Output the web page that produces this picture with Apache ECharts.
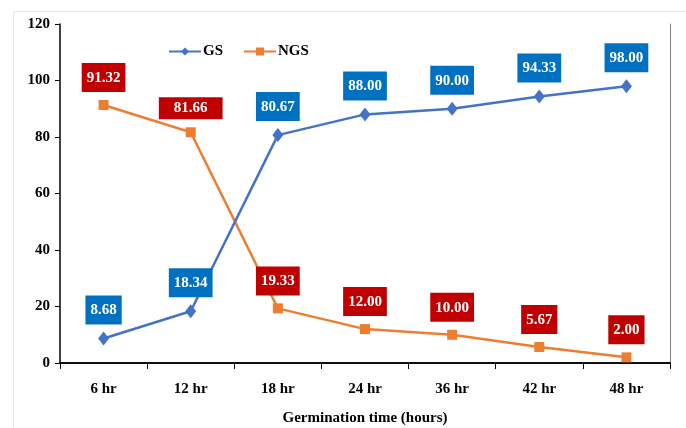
<!DOCTYPE html>
<html>
<head>
<meta charset="utf-8">
<script src="https://cdn.jsdelivr.net/npm/echarts@6/dist/echarts.min.js"></script>
<style>
  html, body { margin: 0; padding: 0; background: #fff; }
  #chart { width: 686px; height: 428px; }
</style>
</head>
<body>
<div id="chart"></div>
<script>
// Germination time categories and the two percentage series
const categories = ['6 hr', '12 hr', '18 hr', '24 hr', '36 hr', '42 hr', '48 hr'];
const gsValues = [8.68, 18.34, 80.67, 88.00, 90.00, 94.33, 98.00];
const ngsValues = [91.32, 81.66, 19.33, 12.00, 10.00, 5.67, 2.00];
const yTicks = { min: 0, max: 120, interval: 20 };

const FONT = '"Liberation Serif", "Times New Roman", serif';

// Boxed value label shown above each point
function boxLabel(bg, distance) {
  return {
    show: true,
    position: 'top',
    distance: distance,
    formatter: p => Number(p.value).toFixed(2),
    color: '#fff',
    fontFamily: FONT,
    fontWeight: 'bold',
    fontSize: 15,
    backgroundColor: bg,
    padding: [7, 5, 6, 5],
    lineHeight: 16
  };
}

// The NGS 12 hr label sits in a wider, flatter box
const ngsData = ngsValues.map((v, i) => i === 1
  ? { value: v, label: { padding: [3, 15, 3, 15] } }
  : v);

const chart = echarts.init(document.getElementById('chart'));
chart.setOption({
  animation: false,
  backgroundColor: '#fff',
  textStyle: { fontFamily: FONT },
  graphic: [{
    type: 'rect',
    silent: true,
    shape: { x: 13.5, y: 11.5, width: 700, height: 440 },
    style: { fill: 'none', stroke: '#e6e6e6', lineWidth: 1 }
  }],
  grid: { left: 60, right: 16, top: 24, bottom: 65, containLabel: false, outerBoundsMode: 'none' },
  legend: {
    top: 39,
    left: 163,
    itemGap: 20,
    itemWidth: 32,
    itemHeight: 10,
    textStyle: { fontFamily: FONT, fontWeight: 'bold', fontSize: 15, color: '#000', padding: [0, 0, 0, -3] },
    data: ['GS', 'NGS']
  },
  xAxis: [{
    type: 'category',
    data: categories,
    boundaryGap: true,
    name: 'Germination time (hours)',
    nameLocation: 'middle',
    nameGap: 48,
    nameTextStyle: { fontFamily: FONT, fontWeight: 'bold', fontSize: 15, color: '#000' },
    axisLine: { lineStyle: { color: '#000', width: 1.5 } },
    axisTick: { show: true, inside: false, length: 6, lineStyle: { color: '#000' } },
    axisLabel: { fontFamily: FONT, fontWeight: 'bold', fontSize: 15, color: '#000', margin: 19 }
  }, {
    type: 'category',
    data: categories,
    position: 'top',
    axisLine: { lineStyle: { color: '#000', width: 1.5 } },
    axisTick: { show: false },
    axisLabel: { show: false }
  }],
  yAxis: [{
    type: 'value',
    min: yTicks.min,
    max: yTicks.max,
    interval: yTicks.interval,
    splitLine: { show: false },
    axisLine: { show: true, lineStyle: { color: '#000', width: 1.5 } },
    axisTick: { show: true, inside: false, length: 5, lineStyle: { color: '#000' } },
    axisLabel: { fontFamily: FONT, fontWeight: 'bold', fontSize: 15, color: '#000', margin: 10 }
  }, {
    type: 'value',
    position: 'right',
    min: yTicks.min,
    max: yTicks.max,
    interval: yTicks.interval,
    splitLine: { show: false },
    axisLine: { show: true, lineStyle: { color: '#808080', width: 1 } },
    axisTick: { show: false },
    axisLabel: { show: false }
  }],
  series: [{
    name: 'GS',
    type: 'line',
    data: gsValues,
    symbol: 'diamond',
    symbolSize: [11, 14],
    lineStyle: { color: '#4472C4', width: 2.5 },
    itemStyle: { color: '#4472C4' },
    label: boxLabel('#0070C0', 7),
    z: 3
  }, {
    name: 'NGS',
    type: 'line',
    data: ngsData,
    symbol: 'rect',
    symbolSize: 10,
    lineStyle: { color: '#ED7D31', width: 2.5 },
    itemStyle: { color: '#ED7D31' },
    label: boxLabel('#C00000', 8),
    z: 2
  }]
});
</script>
</body>
</html>
